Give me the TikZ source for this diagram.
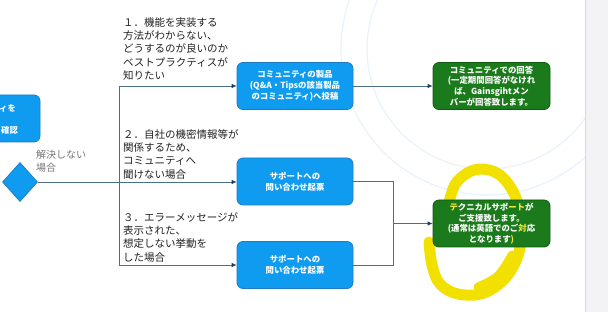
\documentclass[tikz,border=0pt]{standalone}
\usepackage{fontspec}
\setmainfont{Noto Sans CJK JP}
\usetikzlibrary{arrows.meta,shapes.geometric}
\definecolor{bluefill}{HTML}{0F9BF0}
\definecolor{bluedraw}{HTML}{1F7CC4}
\definecolor{greenfill}{HTML}{1B7A1B}
\definecolor{greendraw}{HTML}{115A11}
\definecolor{hl}{HTML}{F2E000}
\definecolor{hltext}{HTML}{F4EA3A}
\definecolor{linecol}{HTML}{4E6C8C}
\definecolor{tipcol}{HTML}{1E3D5C}
\definecolor{labelgray}{HTML}{222222}
\definecolor{softgray}{HTML}{777777}
\definecolor{ring}{HTML}{EAF2FB}
\definecolor{panel}{HTML}{F3F3F5}
\definecolor{panelline}{HTML}{D6D6DC}
\begin{document}
\begin{tikzpicture}[x=1pt,y=-1pt,
  lbl/.style={font=\fontsize{10.5}{13.4}\selectfont, text=labelgray, align=left, anchor=north west, inner sep=0pt},
  bluebox/.style={draw=bluedraw, fill=bluefill, rounded corners=6pt, minimum width=116pt, minimum height=47pt, text=white, font=\fontsize{8.4}{10.9}\selectfont\bfseries, align=center, line width=0.8pt, inner sep=1pt},
  greenbox/.style={draw=greendraw, fill=greenfill, rounded corners=6pt, minimum width=117pt, minimum height=47pt, text=white, font=\fontsize{8.4}{10.6}\selectfont\bfseries, align=center, line width=0.8pt, inner sep=1pt},
  conn/.style={draw=linecol, line width=0.8pt},
  arr/.style={conn, -{Latex[length=5pt,width=4.5pt,color=tipcol]}},
  scribble/.style={draw=hl, line width=11pt, line cap=round, line join=round}
]
\useasboundingbox (0,0) rectangle (608,312);
\fill[white] (0,0) rectangle (608,312);
% faint background rings
\begin{scope}
\clip (0,0) rectangle (585,312);
\draw[ring, line width=1.2pt] (487,49) circle (120);
\draw[ring, line width=1.2pt] (487,49) circle (146);
\end{scope}
% right panel
\fill[panel] (585,0) rectangle (608,312);
\draw[panelline, line width=0.8pt] (585,0) -- (585,312);

% yellow scribble (behind the green box)
\draw[scribble] plot[smooth, tension=0.6] coordinates {(449,203) (456,183) (474,170) (495,172) (511,188) (520,213) (520,248) (507,276) (484,293) (458,294) (440,284) (432,265) (429,242)};
\draw[draw=hl, line width=9pt, line cap=round] plot[smooth, tension=0.6] coordinates {(478,287) (498,276) (512,255)};

% left partial box and its text
\node[draw=bluedraw, fill=bluefill, rounded corners=6pt, minimum width=70pt, minimum height=47pt, line width=0.8pt] (b0) at (5,118.5) {};
\node[anchor=east, inner sep=0pt, text=white, font=\fontsize{8.3}{10}\selectfont\bfseries] (b0t1) at (16,108) {ィを};
\node[anchor=east, inner sep=0pt, text=white, font=\fontsize{8.3}{10}\selectfont\bfseries] (b0t2) at (18,130) {確認};

% diamond
\node[diamond, draw=bluedraw, fill=bluefill, line width=0.8pt, minimum width=35pt, minimum height=39pt, inner sep=0pt, aspect=0.9] (d) at (20,182) {};
\node[anchor=north west, inner sep=0pt, align=left, text=softgray, font=\fontsize{10}{13}\selectfont] (dl) at (36,150) {解決しない\\場合};

% main boxes
\node[bluebox] (b1) at (295,86) {コミュニティの製品\\(Q\&A・Tipsの該当製品\\のコミュニティ)へ投稿};
\node[bluebox] (b2) at (295,181.5) {サポートへの\\問い合わせ起票};
\node[bluebox] (b3) at (295,265) {サポートへの\\問い合わせ起票};
\node[greenbox] (g1) at (491.5,86) {コミュニティでの回答\\(一定期間回答がなけれ\\ば、Gainsgihtメン\\バーが回答致します。};
\node[greenbox] (g2) at (491.5,223.5) {{\color{hltext}テ}クニカルサポ{\color{hltext}ート}が\\ご支援致します。\\(通常は英語でのご{\color{hltext}対}応\\となります{\color{hltext})}};

% labels
\node[lbl] (l1) at (123,17) {１．機能を実装する\\方法がわからない、\\どうするのが良いのか\\ベストプラクティスが\\知りたい};
\node[lbl] (l2) at (123,129) {２．自社の機密情報等が\\関係するため、\\コミュニティへ\\聞けない場合};
\node[lbl] (l3) at (123,212) {３．エラーメッセージが\\表示された、\\想定しない挙動を\\した場合};

% connectors
\coordinate (v1) at (119,86);
\coordinate (v3) at (119,265);
\coordinate (j) at (393,223.5);
\draw[conn] (v1) -- (v3);
\draw[arr] (v1) -- (b1.west);
\draw[arr] (v3) -- (b3.west);
\draw[arr] (d.east) -- (b2.west |- d.east);
\draw[arr] (b1.east) -- (g1.west);
\draw[conn] (b2.east) -| (j);
\draw[conn] (b3.east) -| (j);
\draw[arr] (j) -- (g2.west);
\end{tikzpicture}
\end{document}
